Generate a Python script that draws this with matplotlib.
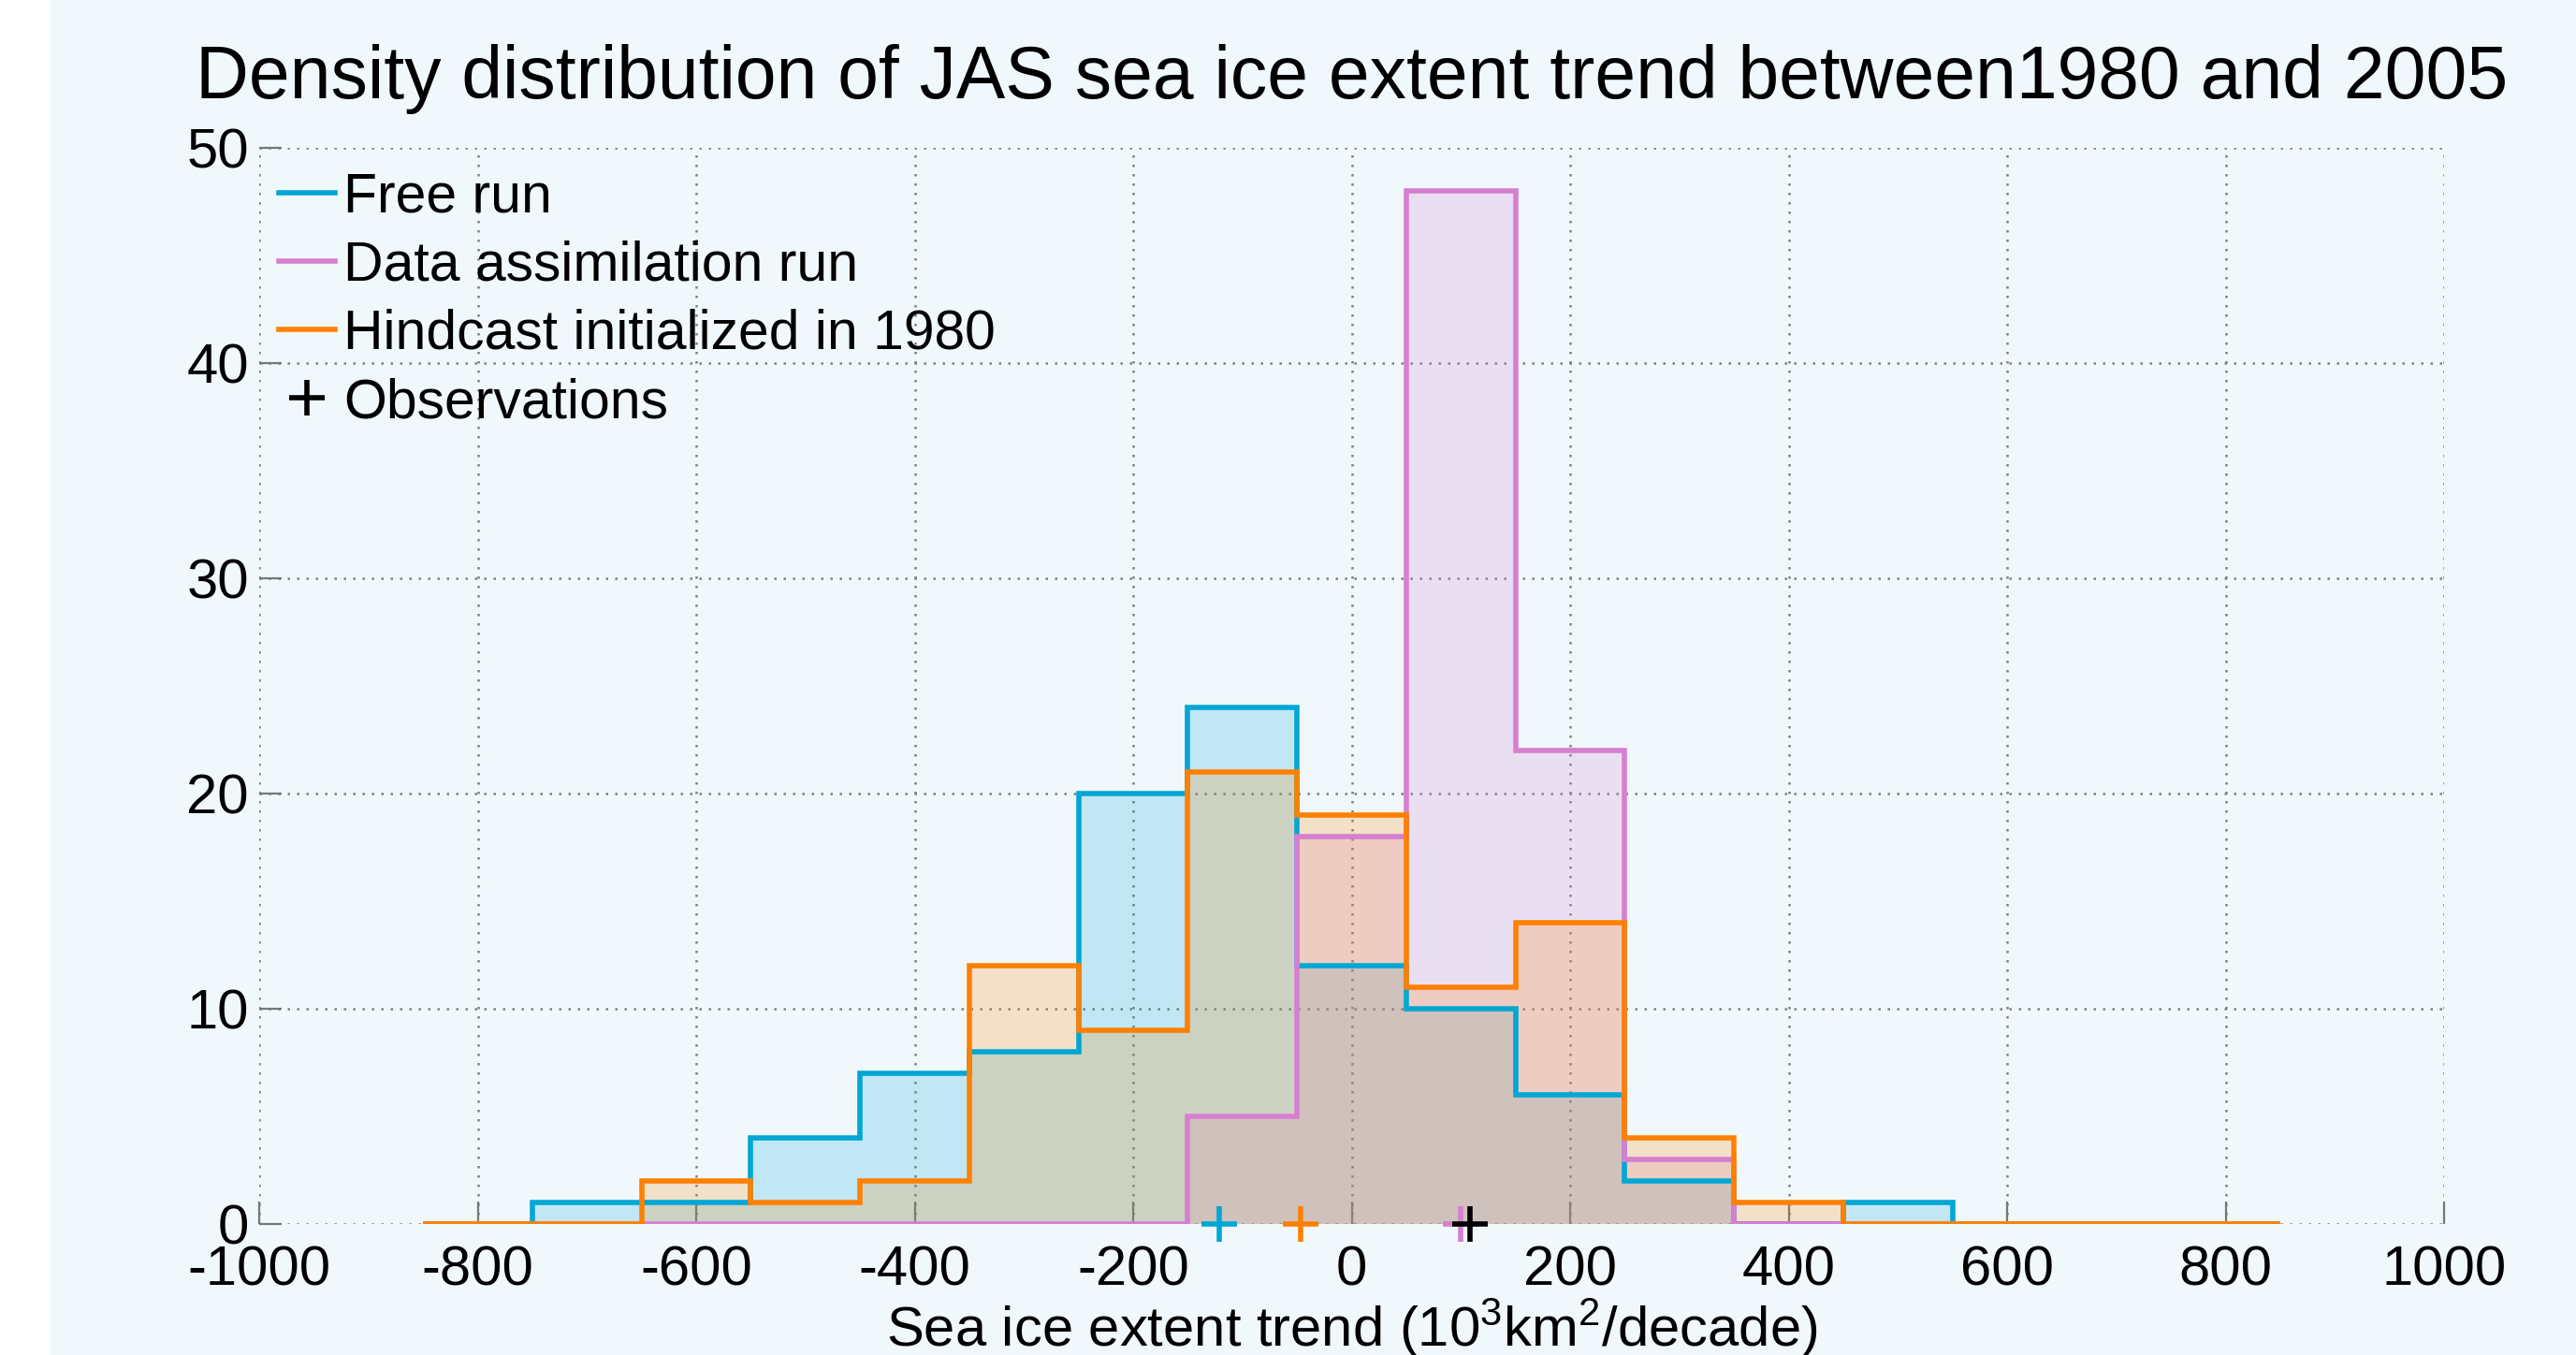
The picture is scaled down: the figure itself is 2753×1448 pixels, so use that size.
import matplotlib
matplotlib.use('Agg')
import matplotlib.pyplot as plt
from matplotlib.lines import Line2D
from matplotlib.patches import Rectangle

plt.rcParams['font.family'] = ['Liberation Sans', 'DejaVu Sans']
plt.rcParams['mathtext.fontset'] = 'custom'
plt.rcParams['mathtext.rm'] = 'Liberation Sans'
plt.rcParams['mathtext.it'] = 'Liberation Sans:italic'
plt.rcParams['mathtext.bf'] = 'Liberation Sans:bold'

# ---- data ----
bin_edges = [-850, -750, -650, -550, -450, -350, -250, -150, -50,
             50, 150, 250, 350, 450, 550, 650, 750, 850]
free_run = [0, 1, 1, 4, 7, 8, 20, 24, 12, 10, 6, 2, 0, 1, 0, 0, 0]
assimilation = [0, 0, 0, 0, 0, 0, 0, 5, 18, 48, 22, 3, 0, 0, 0, 0, 0]
hindcast = [0, 0, 2, 1, 2, 12, 9, 21, 19, 11, 14, 4, 1, 0, 0, 0, 0]
mean_free = -121
mean_assim = 100
mean_hind = -47
observed = 108

labels = ['Free run', 'Data assimilation run', 'Hindcast initialized in 1980', 'Observations']
x_ticks = [-1000, -800, -600, -400, -200, 0, 200, 400, 600, 800, 1000]
y_ticks = [0, 10, 20, 30, 40, 50]

c_free = '#00a6d4'
c_assim = '#d67fd0'
c_hind = '#ff8000'
bg = '#f0f8fb'

W, H, DPI = 2753, 1448, 200
fig = plt.figure(figsize=(W / DPI, H / DPI), dpi=DPI, facecolor=bg)
fig.add_artist(Rectangle((0, 0), 54 / W, 1, transform=fig.transFigure,
                         facecolor='white', edgecolor='none', zorder=-5))

left, right, bottom, top = 277, 2612, 1308, 158
ax = fig.add_axes([left / W, 1 - bottom / H, (right - left) / W, (bottom - top) / H])
ax.set_facecolor('none')

lw = 2.0
fs = 21.5
series = [(free_run, c_free), (assimilation, c_assim), (hindcast, c_hind)]
for i, (vals, col) in enumerate(series):
    ax.stairs(vals, bin_edges, baseline=0, fill=True, facecolor=col, alpha=0.2,
              edgecolor='none', linewidth=0, zorder=2 + i * 0.1)
for i, (vals, col) in enumerate(series):
    ax.stairs(vals, bin_edges, baseline=0, color=col, linewidth=lw, zorder=3 + i * 0.1)

ms, mew = 14, 2.0
ax.plot([mean_free], [0], '+', color=c_free, ms=ms, mew=mew, clip_on=False, zorder=5)
ax.plot([mean_hind], [0], '+', color=c_hind, ms=ms, mew=mew, clip_on=False, zorder=5)
ax.plot([mean_assim], [0], '+', color=c_assim, ms=ms, mew=mew, clip_on=False, zorder=5.1)
ax.plot([observed], [0], '+', color='black', ms=ms, mew=mew, clip_on=False, zorder=5.2)

ax.set_xlim(-1000, 1000)
ax.set_ylim(0, 50)
ax.set_xticks(x_ticks)
ax.set_yticks(y_ticks)
ax.set_xticklabels([str(t) for t in x_ticks])
ax.set_yticklabels([str(t) for t in y_ticks])
for s in ax.spines.values():
    s.set_visible(False)
ax.set_axisbelow(True)
ax.grid(True, color='#808080', linestyle=(0, (1, 3)), linewidth=0.9)
ax.tick_params(axis='both', direction='in', length=8.6, width=0.8, color='#777777',
               labelsize=fs, labelcolor='black')
ax.tick_params(axis='x', pad=8)
ax.tick_params(axis='y', pad=4)

ax.set_title('Density distribution of JAS sea ice extent trend between1980 and 2005',
             fontsize=28.3, pad=19)
ax.set_xlabel('Sea ice extent trend (10$^3$km$^2$/decade)', fontsize=fs)
ax.xaxis.set_label_coords(0.5, -0.068)

handles = [Line2D([], [], color=c_free, lw=lw),
           Line2D([], [], color=c_assim, lw=lw),
           Line2D([], [], color=c_hind, lw=lw),
           Line2D([], [], color='black', marker='+', ls='none', ms=ms, mew=mew)]
ax.legend(handles, labels, loc='upper left', bbox_to_anchor=(0.009, 0.978),
          frameon=False, fontsize=21.2, handlelength=1.02, handletextpad=0.15,
          labelspacing=0.31, borderpad=0, borderaxespad=0)

fig.savefig('out.png', dpi=DPI, facecolor=bg)
